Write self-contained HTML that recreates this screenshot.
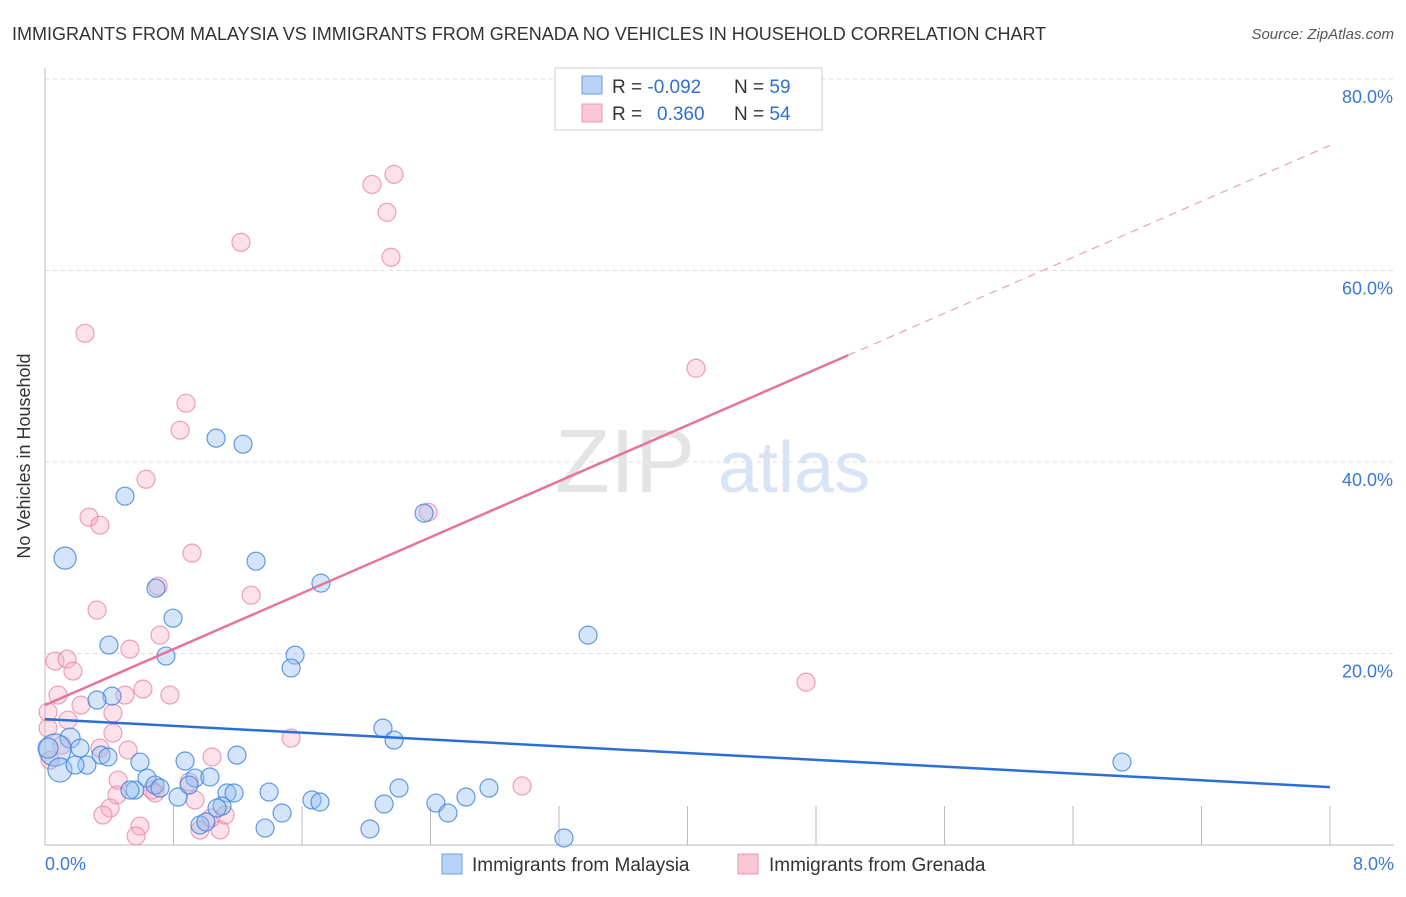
<!DOCTYPE html>
<html><head><meta charset="utf-8"><style>
body{margin:0;background:#fff;font-family:"Liberation Sans",sans-serif;}
svg text{font-family:"Liberation Sans",sans-serif;}
</style></head><body>
<svg id="chart" width="1406" height="892">
<text x="12" y="40" font-size="18" fill="#333">IMMIGRANTS FROM MALAYSIA VS IMMIGRANTS FROM GRENADA NO VEHICLES IN HOUSEHOLD CORRELATION CHART</text>
<text x="1394" y="39" font-size="15" fill="#555" text-anchor="end" font-style="italic">Source: ZipAtlas.com</text>
<text x="30" y="456" font-size="18" fill="#333" text-anchor="middle" transform="rotate(-90 30 456)">No Vehicles in Household</text>
<g id="grid"></g>
<g>
<text x="555" y="492" font-size="90" fill="#e4e4e4" font-family="Liberation Serif">ZIP</text>
<text x="718" y="492" font-size="72" fill="#d6e4f5">atlas</text>
</g>
<g id="points"></g>
<g id="lines"></g>
<g>
<rect x="555" y="68" width="267" height="62" fill="#fff" stroke="#ccc"/>
<rect x="582" y="76" width="20" height="18" fill="#b8d3f5" stroke="#6a9ee0"/>
<rect x="582" y="104" width="20" height="18" fill="#f9c6d5" stroke="#eb98b0"/>
<text x="612" y="93" font-size="19" fill="#333">R = <tspan fill="#2f6fd1">-0.092</tspan><tspan x="734">N = </tspan><tspan fill="#2f6fd1">59</tspan></text>
<text x="612" y="120" font-size="19" fill="#333">R = <tspan x="657" fill="#2f6fd1">0.360</tspan><tspan x="734">N = </tspan><tspan fill="#2f6fd1">54</tspan></text>
</g>
<g>
<rect x="442" y="854" width="20" height="20" fill="#b8d3f5" stroke="#6a9ee0"/>
<text x="472" y="871" font-size="19" fill="#333">Immigrants from Malaysia</text>
<rect x="738" y="854" width="20" height="20" fill="#f9c6d5" stroke="#eb98b0"/>
<text x="769" y="871" font-size="19" fill="#333">Immigrants from Grenada</text>
</g>
</svg>
<script>
const yTicks=[20,40,60,80];
const yTickLabels=["20.0%","40.0%","60.0%","80.0%"];
const xTicks=[0,0.8,1.6,2.4,3.2,4.0,4.8,5.6,6.4,7.2,8.0];
const xEndLabels=["0.0%","8.0%"];
const blueX=[0.125,0.498,1.065,1.233,2.360,1.314,1.718,0.691,0.797,0.398,0.753,1.557,1.532,3.381,0.417,0.324,2.104,2.173,0.156,0.062,0.019,0.093,0.218,0.349,0.261,0.187,0.591,0.872,1.195,0.392,0.560,0.529,0.635,0.685,0.716,0.934,1.027,0.828,0.897,1.133,1.177,1.395,1.476,1.662,1.712,2.204,2.111,2.434,2.509,2.621,2.764,0.965,1.002,1.370,2.023,3.231,6.705,1.102,1.071];
const blueY=[29.96,36.43,42.49,41.86,34.66,29.64,27.35,26.82,23.69,20.88,19.73,19.83,18.48,21.92,15.55,15.14,12.21,10.96,11.17,9.92,10.12,7.83,10.12,9.39,8.35,8.35,8.66,8.77,9.39,9.19,5.74,5.74,6.99,6.26,5.95,6.99,7.10,5.01,6.26,5.43,5.43,5.53,3.34,4.70,4.49,5.95,4.28,4.38,3.34,5.01,5.95,2.09,2.40,1.77,1.67,0.73,8.66,4.07,3.86];
const blueR=[11,9,9,9,9,9,9,9,9,9,9,9,9,9,9,9,9,9,10,16,10,12,9,9,9,9,9,9,9,9,9,9,9,9,9,9,9,9,9,9,9,9,9,9,9,9,9,9,9,9,9,9,9,9,9,9,9,9,9];
const pinkX=[2.173,2.036,2.129,1.220,2.154,0.249,4.053,0.878,0.841,0.629,0.274,0.342,2.385,0.915,0.704,1.283,0.324,0.716,0.529,0.062,0.137,0.174,0.081,0.224,0.498,0.778,0.610,0.423,0.143,0.019,0.019,0.423,1.532,0.517,4.738,1.040,2.970,0.897,0.666,0.685,0.448,0.405,0.361,0.591,0.567,0.965,1.090,1.034,0.934,1.121,0.031,0.342,0.106,0.455];
const pinkY=[70.04,68.99,66.07,62.94,61.38,53.44,49.79,46.14,43.32,38.20,34.24,33.40,34.76,30.48,27.03,26.09,24.53,21.92,20.46,19.21,19.41,18.16,15.66,14.61,15.66,15.66,16.28,13.78,13.05,13.88,12.21,11.69,11.17,9.92,17.01,9.19,6.16,6.58,5.74,5.43,5.22,3.86,3.13,1.98,0.94,1.57,1.57,2.82,4.70,3.13,8.87,10.12,10.44,6.78];
const blueTrend=[13.15,6.05];
const pinkTrend=[14.61,73.07];
const pinkSolidEnd=5.0;
const NS="http://www.w3.org/2000/svg";
const X0=45,X1=1330,Y0=845,Y80=79;
const sx=v=>X0+(v/8)*(X1-X0);
const sy=v=>Y0-(v/80)*(Y0-Y80);
function mk(tag,attrs,parent){const e=document.createElementNS(NS,tag);for(const k in attrs)e.setAttribute(k,attrs[k]);parent.appendChild(e);return e;}
const grid=document.getElementById('grid');
yTicks.forEach((t,i)=>{
 const l=mk('line',{x1:X0,x2:1394,y1:sy(t),y2:sy(t),stroke:'#ddd','stroke-dasharray':'4,4'},grid);
 
 
 const tx=mk('text',{x:1393,y:sy(t)+24,'font-size':18,fill:'#3a78d4','text-anchor':'end'},grid);
 tx.textContent=yTickLabels[i];
 
 
});
const ax=mk('line',{x1:X0,x2:X0,y1:68,y2:Y0,stroke:'#bbb'},grid);


const bx=mk('line',{x1:X0,x2:1394,y1:Y0,y2:Y0,stroke:'#bbb'},grid);


xTicks.forEach(t=>{
 const l=mk('line',{x1:sx(t),x2:sx(t),y1:806,y2:Y0,stroke:'#bbb'},grid);
 
 
});
[[0,'start',45],[8,'end',1394]].forEach((d,i)=>{
 const tx=mk('text',{x:d[2],y:870,'font-size':18,fill:'#3a78d4','text-anchor':d[1]},grid);
 tx.textContent=xEndLabels[i];
 
 
});
const pts=document.getElementById('points');
pinkX.forEach((x,i)=>{
 const c=mk('circle',{cx:sx(x),cy:sy(pinkY[i]),r:9,fill:'rgba(246,170,195,0.35)',stroke:'rgba(232,130,160,0.75)','stroke-width':1.2},pts);
 
 
});
blueX.forEach((x,i)=>{
 const c=mk('circle',{cx:sx(x),cy:sy(blueY[i]),r:blueR[i],fill:'rgba(150,190,240,0.4)',stroke:'rgba(60,130,220,0.8)','stroke-width':1.2},pts);
 
 
});
const lines=document.getElementById('lines');
const bl=mk('line',{x1:sx(0),y1:sy(blueTrend[0]),x2:sx(8),y2:sy(blueTrend[1]),stroke:'#2b6fd6','stroke-width':2.5},lines);


const pm=pinkTrend[0]+(pinkTrend[1]-pinkTrend[0])*pinkSolidEnd/8;
const pl=mk('line',{x1:sx(0),y1:sy(pinkTrend[0]),x2:sx(pinkSolidEnd),y2:sy(pm),stroke:'#e8739a','stroke-width':2.5},lines);


const pd=mk('line',{x1:sx(pinkSolidEnd),y1:sy(pm),x2:sx(8),y2:sy(pinkTrend[1]),stroke:'#eda0b8','stroke-width':1.2,'stroke-dasharray':'8,6'},lines);


</script>
</body></html>
